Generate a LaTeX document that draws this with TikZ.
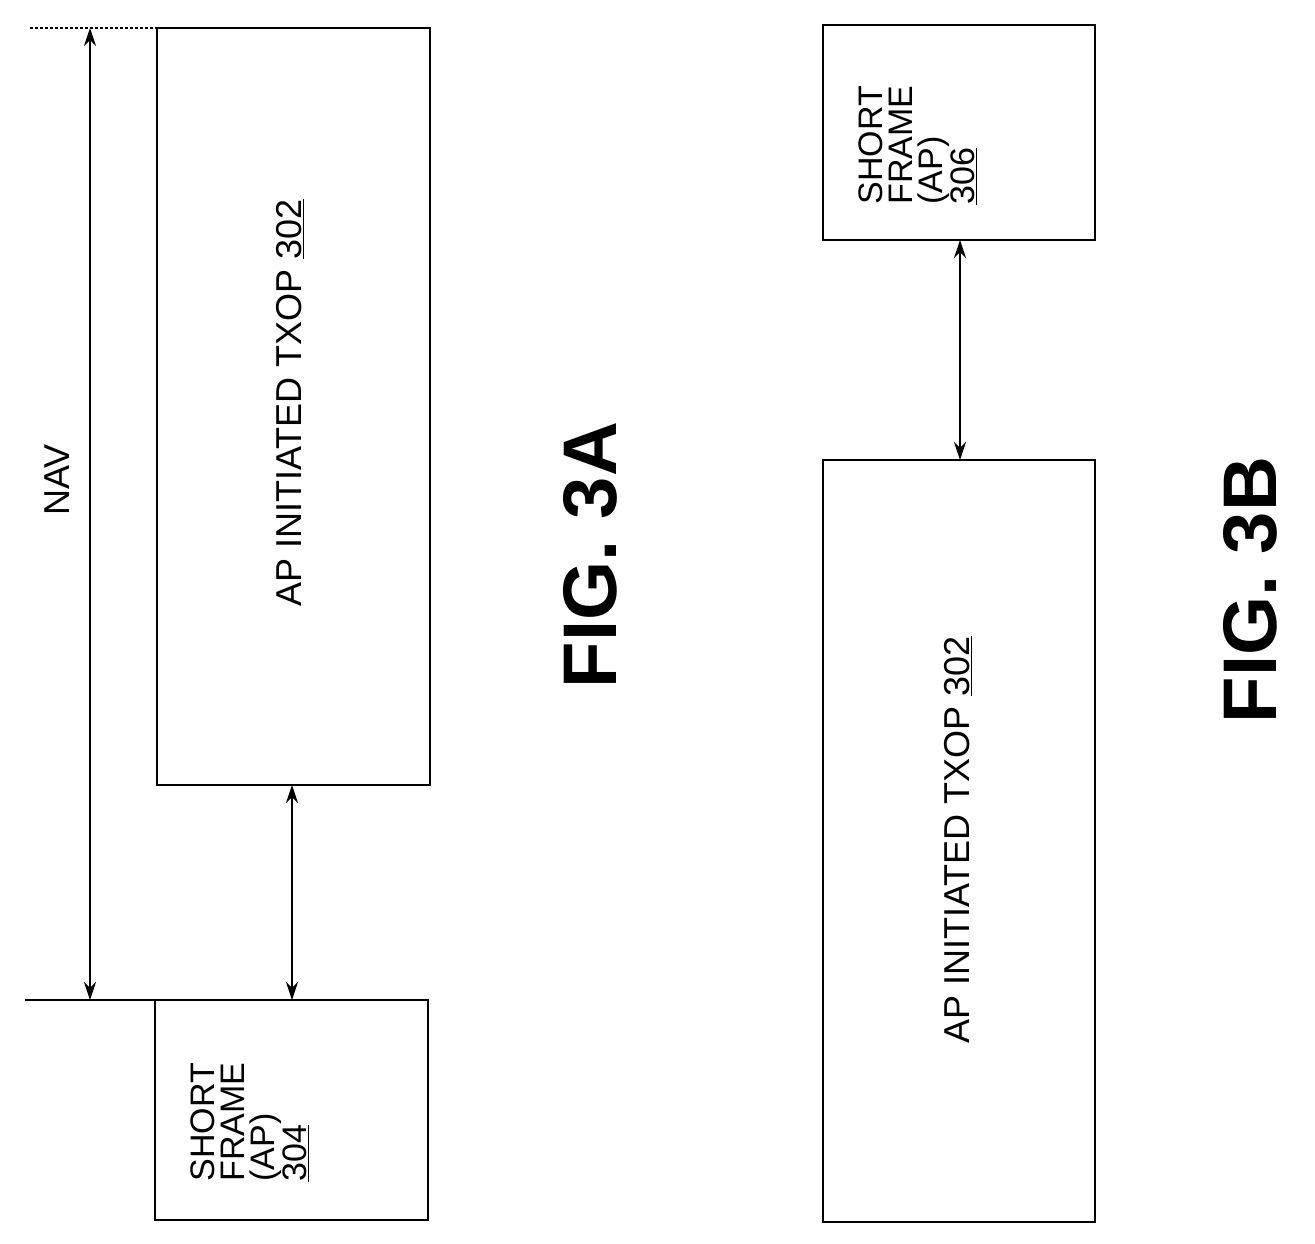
\documentclass[tikz,border=0pt]{standalone}
\usepackage{fontspec}
\setmainfont{Liberation Sans}
\usetikzlibrary{arrows.meta}
\begin{document}
\begin{tikzpicture}[x=1pt,y=-1pt,
  box/.style={draw,line width=1.3pt},
  lbl/.style={rotate=90,font=\fontsize{36}{30}\selectfont},
  sfl/.style={rotate=90,font=\fontsize{34}{30}\selectfont,align=left},
  fig/.style={rotate=90,font=\fontsize{76}{80}\selectfont\bfseries},
  dbl/.style={{Stealth[length=18pt,width=12pt]}-{Stealth[length=18pt,width=12pt]},line width=1.3pt}]
\useasboundingbox (0,0) rectangle (1315,1243);
% Fig 3A
\node[box,minimum width=273pt,minimum height=757pt,inner sep=0pt] (txopA) at (293.5,406.5) {};
\node[lbl] (txopAt) at (290,403) {AP INITIATED TXOP \underline{302}};
\node[box,minimum width=273pt,minimum height=220pt,inner sep=0pt] (sfA) at (291.5,1110) {};
\node[sfl] (sfAt) at (250,1122) {SHORT\\FRAME\\(AP)\\\underline{304}};
\draw[dbl] (292,785) -- (292,1000);
\coordinate (n1) at (30,28);
\coordinate (n1e) at (157,28);
\coordinate (n2) at (25,1000);
\coordinate (n2e) at (155,1000);
\draw[line width=1.2pt,dash pattern=on 3pt off 2pt] (n1) -- (n1e);
\draw[line width=1.3pt] (n2) -- (n2e);
\draw[dbl] (90,28) -- (90,1000);
\node[lbl] (nav) at (57,480) {NAV};
\node[fig] (f3a) at (590,555) {FIG. 3A};
% Fig 3B
\node[box,minimum width=272pt,minimum height=215pt,inner sep=0pt] (sfB) at (959,132.5) {};
\node[sfl] (sfBt) at (918,145) {SHORT\\FRAME\\(AP)\\\underline{306}};
\node[box,minimum width=272pt,minimum height=762pt,inner sep=0pt] (txopB) at (959,841) {};
\node[lbl] (txopBt) at (958,840) {AP INITIATED TXOP \underline{302}};
\draw[dbl] (960,240) -- (960,460);
\node[fig] (f3b) at (1250,590) {FIG. 3B};
\end{tikzpicture}
\end{document}
